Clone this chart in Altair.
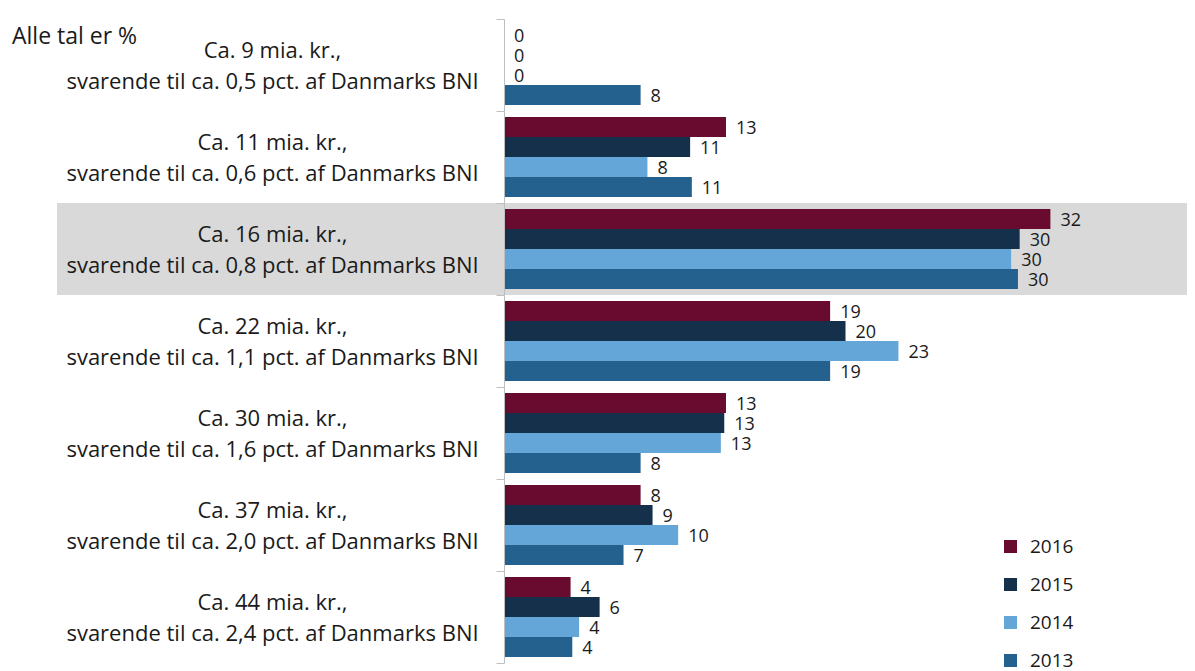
import altair as alt
import pandas as pd

categories = [
    "Ca. 9 mia. kr.,|svarende til ca. 0,5 pct. af Danmarks BNI",
    "Ca. 11 mia. kr.,|svarende til ca. 0,6 pct. af Danmarks BNI",
    "Ca. 16 mia. kr.,|svarende til ca. 0,8 pct. af Danmarks BNI",
    "Ca. 22 mia. kr.,|svarende til ca. 1,1 pct. af Danmarks BNI",
    "Ca. 30 mia. kr.,|svarende til ca. 1,6 pct. af Danmarks BNI",
    "Ca. 37 mia. kr.,|svarende til ca. 2,0 pct. af Danmarks BNI",
    "Ca. 44 mia. kr.,|svarende til ca. 2,4 pct. af Danmarks BNI",
]
years = ["2016", "2015", "2014", "2013"]
v2016 = [0, 13.0, 32.0, 19.1, 13.0, 8.0, 3.9]
v2015 = [0, 10.9, 30.2, 20.0, 12.9, 8.7, 5.6]
v2014 = [0, 8.4, 29.7, 23.1, 12.7, 10.2, 4.4]
v2013 = [8.0, 11.0, 30.1, 19.1, 8.0, 7.0, 4.0]
colors = ["#690b2e", "#14304a", "#63a6d7", "#24618f"]
highlight_cat = categories[2]
note = "Alle tal er %"

rows = []
for y, vals in zip(years, [v2016, v2015, v2014, v2013]):
    for c, v in zip(categories, vals):
        rows.append({"cat": c, "year": y, "value": v})
df = pd.DataFrame(rows)

W = 683
H = 644
FONT = "Open Sans"
yscale = alt.Scale(domain=categories, paddingInner=0, paddingOuter=0)
offscale = alt.Scale(domain=years, paddingOuter=0.3, paddingInner=0)

yaxis = alt.Axis(
    labelExpr="split(datum.label, '|')",
    labelAlign="center",
    labelBaseline="middle",
    labelPadding=224,
    labelOffset=-15,
    labelFontSize=22,
    labelFont=FONT,
    labelColor="#1a1a1a",
    labelLineHeight=31,
    labelLimit=600,
    domainColor="#bfbfbf",
    tickColor="#bfbfbf",
    tickSize=8,
    tickBand="extent",
    grid=False,
)

hl = alt.Chart(pd.DataFrame({"cat": [highlight_cat]})).mark_rect(color="#d9d9d9").encode(
    y=alt.Y("cat:N", scale=yscale, axis=yaxis, title=None),
    x=alt.value(-447),
    x2=alt.value(W),
)

base = alt.Chart(df).encode(
    y=alt.Y("cat:N", scale=yscale, title=None, axis=yaxis),
    yOffset=alt.YOffset("year:N", scale=offscale),
    x=alt.X("value:Q", scale=alt.Scale(domain=[0, 40], nice=False), axis=None, stack=None),
)

bars = base.mark_bar().encode(
    color=alt.Color(
        "year:N",
        scale=alt.Scale(domain=years, range=colors),
        legend=alt.Legend(
            title=None,
            orient="none",
            legendX=497,
            legendY=518,
            symbolType="square",
            symbolSize=170,
            symbolStrokeWidth=0,
            labelFontSize=19,
            labelFont=FONT,
            labelColor="#1a1a1a",
            rowPadding=18,
            labelOffset=10,
        ),
    )
)

texts = base.mark_text(align="left", baseline="middle", dx=10, dy=2, fontSize=18, font=FONT, color="#1a1a1a").encode(
    text=alt.Text("value:Q", format=".0f")
)

title = alt.Chart(pd.DataFrame({"t": [note]})).mark_text(
    align="left", baseline="middle", fontSize=23, font=FONT, color="#1a1a1a"
).encode(x=alt.value(-492), y=alt.value(18), text="t:N")

chart = alt.layer(hl, bars, texts, title).properties(
    width=W,
    height=H,
    padding={"left": 4, "top": 0, "right": 0, "bottom": 0},
).configure_view(stroke=None)

chart.save("out.html", embed_options={"renderer": "svg", "actions": False})
